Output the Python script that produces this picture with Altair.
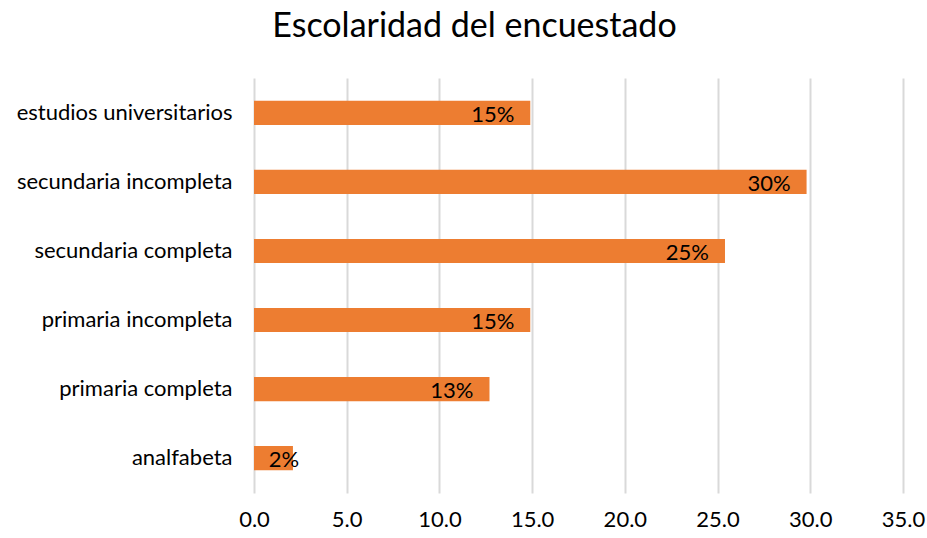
import altair as alt
import pandas as pd

categories = ["estudios universitarios", "secundaria incompleta", "secundaria completa",
              "primaria incompleta", "primaria completa", "analfabeta"]
values = [14.9, 29.8, 25.4, 14.9, 12.7, 2.1]
labels = ["15%", "30%", "25%", "15%", "13%", "2%"]
x_ticks = [0, 5, 10, 15, 20, 25, 30, 35]

df = pd.DataFrame({"cat": categories, "value": values, "label": labels})

FONT = "Lato"
FS = 22

y_enc = alt.Y("cat:N", sort=categories, title=None,
              scale=alt.Scale(paddingInner=0.65, paddingOuter=0.33),
              axis=alt.Axis(domain=False, ticks=False, labelFontSize=FS, labelFont=FONT,
                            labelColor="#000000", labelPadding=22, grid=False,
                            labelLimit=0))

bars = alt.Chart(df).mark_bar(color="#ED7D31").encode(
    x=alt.X("value:Q", title=None,
            scale=alt.Scale(domain=[0, 35], nice=False),
            axis=alt.Axis(values=x_ticks, format=".1f", domain=False, ticks=False,
                          grid=True, gridColor="#d9d9d9", gridWidth=2,
                          labelFontSize=FS, labelFont=FONT, labelColor="#000000",
                          labelPadding=16, labelFlush=False, labelOverlap=False)),
    y=y_enc,
)

text = alt.Chart(df).transform_calculate(
    lx="max(datum.value, 3.3)"
).mark_text(align="right", baseline="middle", dx=-16, dy=2, fontSize=FS, font=FONT,
            color="#000000").encode(
    x="lx:Q",
    y=alt.Y("cat:N", sort=categories),
    text="label:N",
)

chart = (bars + text).properties(
    width=649, height=415,
    padding={"left": 254, "top": 78, "right": 24, "bottom": 45},
    autosize=alt.AutoSizeParams(type="none"),
    title=alt.TitleParams("Escolaridad del encuestado", fontSize=34, font=FONT,
                          fontWeight="normal", color="#000000", anchor="middle",
                          dx=-104, offset=34),
).configure_view(stroke=None)

chart.save("out.html", embed_options={"renderer": "svg", "actions": False})
